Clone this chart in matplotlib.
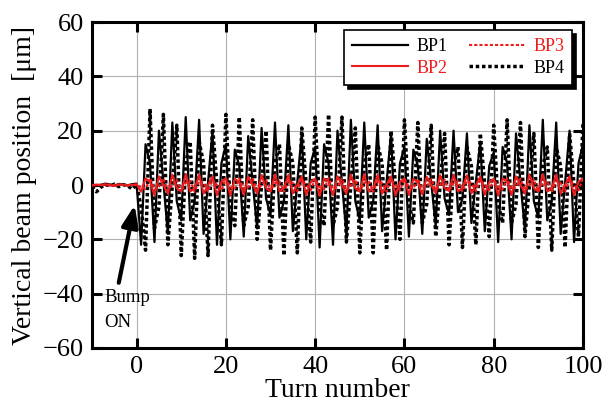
import matplotlib
matplotlib.use("Agg")
import matplotlib.pyplot as plt
import numpy as np

turns = list(range(-10, 101))

bp1 = [0.3, -0.2, 0.1, 0.5, 0.2, -0.3, 0.4, 0.1, -0.2, 0.3, 0.5,
       -22, 15, 8, -21, 20, 1, -18, 23, -6, -13,
       25, -13, -6, 24, -18, 1, 20, -22, 8, 15,
       -20, 13, 7, -19, 18, 1, -16, 21, -5, -11,
       23, -12, -6, 22, -17, 1, 19, -20, 8, 14,
       -23, 15, 8, -22, 20, 1, -18, 24, -6, -13,
       23, -12, -6, 22, -17, 1, 19, -20, 8, 14,
       -19, 13, 7, -18, 17, 1, -15, 20, -5, -11,
       20, -10, -5, 19, -14, 1, 16, -17, 7, 12,
       -21, 14, 8, -20, 19, 1, -17, 22, -6, -12,
       24, -13, -6, 23, -18, 1, 20, -21, 8, 15]

bp4 = [-0.5, -2.5, -0.8, 0.2, -0.4, 0.3, -0.6, 0.1, -0.3, -1.5, 0.2,
       -8, -24, 28, -16, -8, 26, -22, 0, 22, -26,
       8, 16, -27, 16, 8, -26, 22, 0, -22, 26,
       -8, -15, 25, -15, -8, 24, -20, 0, 20, -24,
       8, 15, -26, 15, 8, -25, 21, 0, -21, 25,
       -8, -15, 26, -15, -8, 25, -21, 0, 21, -25,
       8, 15, -25, 15, 8, -24, 20, 0, -20, 24,
       -7, -14, 23, -14, -7, 22, -19, 0, 19, -22,
       7, 14, -23, 14, 7, -22, 19, 0, -19, 22,
       -7, -14, 24, -14, -7, 23, -19, 0, 19, -23,
       7, 14, -24, 14, 7, -23, 19, 0, -19, 23]

bp2 = [-0.3, 0.2, -0.1, 0.3, 0.0, -0.4, 0.2, 0.1, -0.2, 0.0, 0.3,
       -2.5, 2.4, 1.2, -3.8, 3.2, 0.0, -3.2, 3.8, -1.2, -2.4,
       4.0, -2.4, -1.2, 3.8, -3.2, 0.0, 3.2, -3.8, 1.2, 2.4,
       -3.8, 2.3, 1.1, -3.6, 3.1, 0.1, -3.1, 3.7, -1.1, -2.3,
       3.9, -2.3, -1.1, 3.7, -3.1, 0.0, 3.1, -3.7, 1.1, 2.3,
       -4.0, 2.4, 1.2, -3.8, 3.2, 0.0, -3.2, 3.8, -1.2, -2.4,
       4.0, -2.4, -1.2, 3.8, -3.2, 0.0, 3.2, -3.8, 1.2, 2.4,
       -3.7, 2.2, 1.1, -3.5, 3.0, 0.0, -3.0, 3.6, -1.1, -2.2,
       3.8, -2.3, -1.1, 3.6, -3.1, 0.0, 3.1, -3.6, 1.1, 2.3,
       -3.9, 2.4, 1.2, -3.7, 3.2, 0.0, -3.2, 3.8, -1.2, -2.4,
       4.0, -2.4, -1.2, 3.8, -3.2, 0.0, 3.2, -3.8, 1.2, 2.4]

bp3 = [0.1, -0.2, 0.2, 0.0, -0.3, 0.1, 0.2, -0.1, 0.0, 0.2, -0.1,
       -0.8, -1.5, 2.5, -1.5, -0.8, 2.4, -2.0, 0.0, 2.0, -2.4,
       0.8, 1.5, -2.5, 1.5, 0.8, -2.4, 2.0, 0.0, -2.0, 2.4,
       -0.8, -1.4, 2.4, -1.4, -0.8, 2.3, -1.9, 0.0, 1.9, -2.3,
       0.8, 1.4, -2.4, 1.4, 0.8, -2.3, 1.9, 0.0, -1.9, 2.3,
       -0.8, -1.5, 2.5, -1.5, -0.8, 2.4, -2.0, 0.0, 2.0, -2.4,
       0.8, 1.5, -2.5, 1.5, 0.8, -2.4, 2.0, 0.0, -2.0, 2.4,
       -0.7, -1.4, 2.3, -1.4, -0.7, 2.2, -1.9, 0.0, 1.9, -2.2,
       0.7, 1.4, -2.3, 1.4, 0.7, -2.2, 1.9, 0.0, -1.9, 2.2,
       -0.8, -1.5, 2.4, -1.5, -0.8, 2.3, -2.0, 0.0, 2.0, -2.3,
       0.8, 1.5, -2.5, 1.5, 0.8, -2.4, 2.0, 0.0, -2.0, 2.4]

xticks = [0, 20, 40, 60, 80, 100]
yticks = [-60, -40, -20, 0, 20, 40, 60]

plt.rcParams['font.family'] = ['Liberation Serif', 'DejaVu Serif']

fig = plt.figure(figsize=(6.10, 4.07), dpi=100)
ax = fig.add_axes([0.1508, 0.1450, 0.8049, 0.8009])

ax.plot(turns, bp1, color='black', lw=1.6, ls='-', label='BP1', zorder=3)
ax.plot(turns, bp4, color='black', lw=2.5, ls=(0, (1, 0.8)), label='BP4', zorder=3)
ax.plot(turns, bp3, color='#ee1c1c', lw=1.5, ls=(0, (1.5, 1)), label='BP3', zorder=4)
ax.plot(turns, bp2, color='#ee1c1c', lw=1.5, ls='-', label='BP2', zorder=5)

ax.set_xlim(-10, 100)
ax.set_ylim(-60, 60)
ax.set_xticks(xticks)
ax.set_yticks(yticks)
ax.grid(True, color='#b0b0b0', lw=0.8)
ax.set_axisbelow(True)
ax.tick_params(direction='in', length=7, width=2.2, top=True, right=True,
               labelsize=19, pad=6)
for s in ax.spines.values():
    s.set_linewidth(2.2)

ax.set_xlabel('Turn number', fontsize=20, labelpad=0)
ax.set_ylabel('Vertical beam position  [μm]', fontsize=20, labelpad=4)

h = {l.get_label(): l for l in ax.get_lines()}
handles = [h['BP1'], h['BP2'], h['BP3'], h['BP4']]
leg = ax.legend(handles, ['BP1', 'BP2', 'BP3', 'BP4'], ncol=2, loc='upper right',
                bbox_to_anchor=(0.978, 0.975), borderaxespad=0, fontsize=13,
                frameon=True, fancybox=False, edgecolor='black', handlelength=3.1,
                columnspacing=1.2, handletextpad=0.45, labelspacing=0.25,
                borderpad=0.45, shadow={'color': 'black', 'alpha': 1.0, 'ox': 3, 'oy': -3})
leg.get_frame().set_linewidth(1.2)
for t, c in zip(leg.get_texts(), ['black', '#ee1c1c', '#ee1c1c', 'black']):
    t.set_color(c)
leg.set_zorder(10)

ax.annotate('', xy=(-0.45, -7.4), xytext=(-4.0, -36),
            arrowprops=dict(arrowstyle='-|>,head_length=1.3,head_width=0.5',
                            color='black', lw=3, shrinkA=0, shrinkB=0), zorder=6)
ax.text(-7.3, -41.5, 'Bump', fontsize=13.5, ha='left', va='center', zorder=6)
ax.text(-7.3, -50.5, 'ON', fontsize=13.5, ha='left', va='center', zorder=6)

fig.savefig('out.png', dpi=100)
